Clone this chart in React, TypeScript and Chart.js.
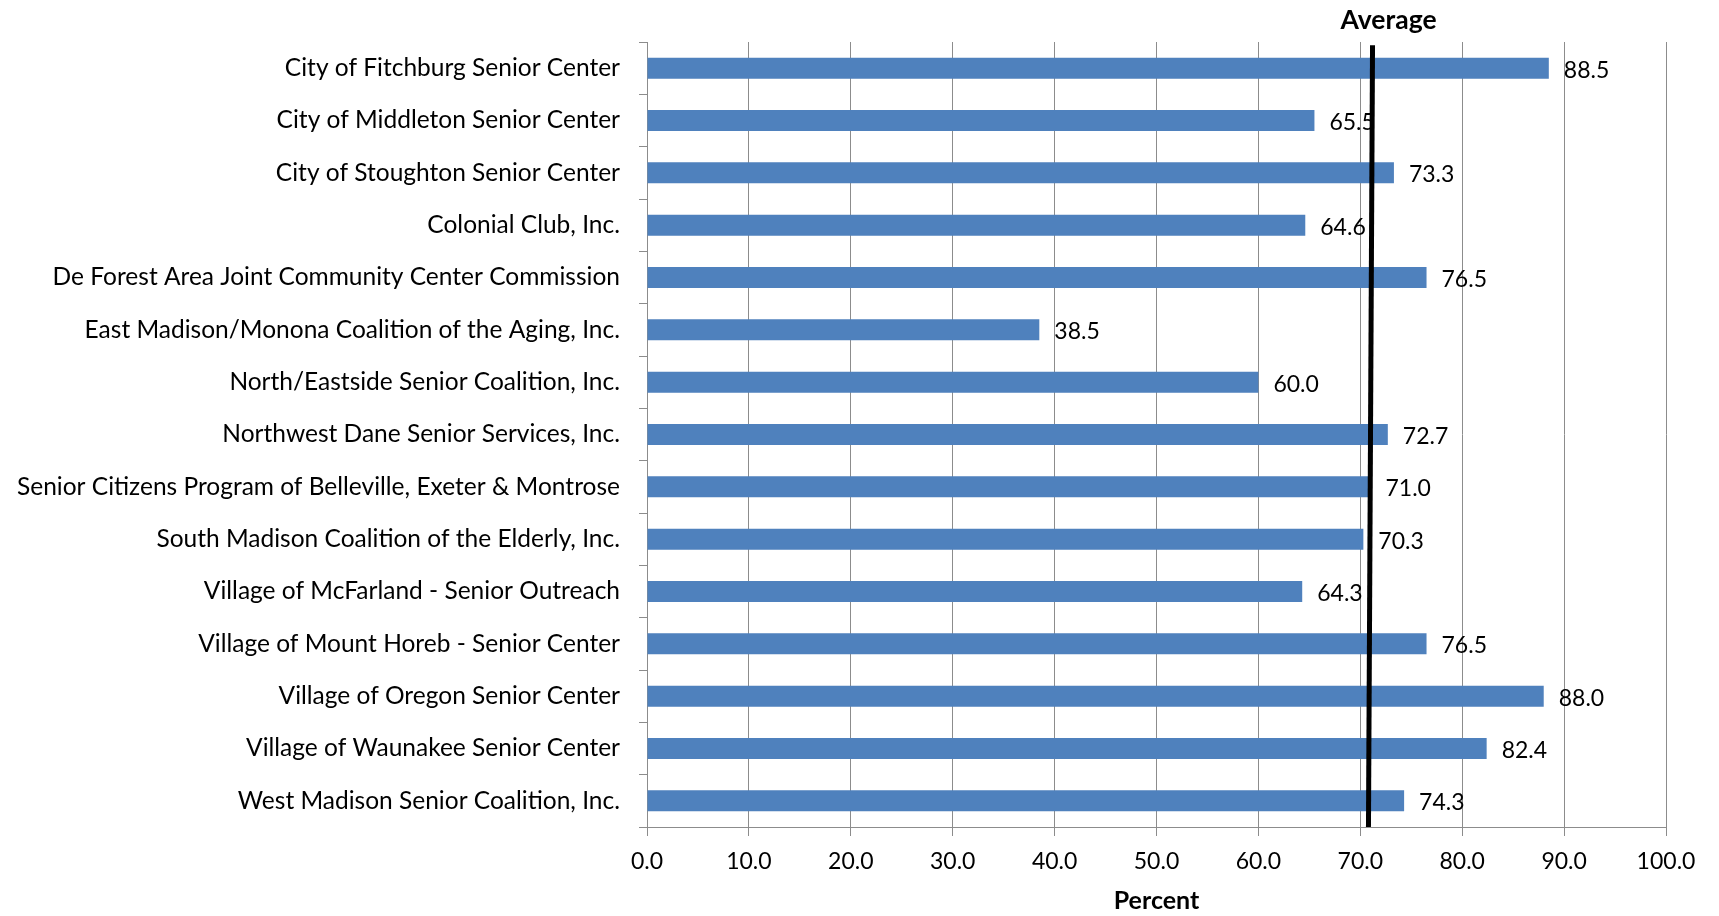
import { useEffect, useRef } from "react";
import { Chart, registerables } from "chart.js";

Chart.register(...registerables);

const categories = [
  "City of Fitchburg Senior Center",
  "City of Middleton Senior Center",
  "City of Stoughton Senior Center",
  "Colonial Club, Inc.",
  "De Forest Area Joint Community Center Commission",
  "East Madison/Monona Coalition of the Aging, Inc.",
  "North/Eastside Senior Coalition, Inc.",
  "Northwest Dane Senior Services, Inc.",
  "Senior Citizens Program of Belleville, Exeter & Montrose",
  "South Madison Coalition of the Elderly, Inc.",
  "Village of McFarland - Senior Outreach",
  "Village of Mount Horeb - Senior Center",
  "Village of Oregon Senior Center",
  "Village of Waunakee Senior Center",
  "West Madison Senior Coalition, Inc.",
];

const values = [88.5, 65.5, 73.3, 64.6, 76.5, 38.5, 60.0, 72.7, 71.0, 70.3, 64.3, 76.5, 88.0, 82.4, 74.3];

const averageX = [71.2, 70.8];
const averageY = [0.996, 0];
const averageLabel = "Average";
const xTitle = "Percent";
const xMin = 0;
const xMax = 100;
const xStep = 10;

const FONT = "Lato, 'Open Sans', sans-serif";
const FS = 23;
const FS_CAT = 24.5;
const GRID = "#8c8c8c";

export default function App() {
  const ref = useRef<HTMLCanvasElement | null>(null);

  useEffect(() => {
    document.body.style.margin = "0";
    const canvas = ref.current;
    if (!canvas) return;

    const labelsPlugin = {
      id: "valueLabels",
      afterDatasetDraw(chart: any, args: any) {
        if (args.index !== 0) return;
        const ctx = chart.ctx;
        const meta = chart.getDatasetMeta(0);
        ctx.save();
        ctx.font = `${FS}px ${FONT}`;
        ctx.fillStyle = "#000";
        ctx.textBaseline = "middle";
        ctx.textAlign = "left";
        meta.data.forEach((bar: any, i: number) => {
          ctx.fillText(values[i].toFixed(1), bar.x + 15, bar.y + 2);
        });
        ctx.restore();
      },
      afterDraw(chart: any) {
        const ctx = chart.ctx;
        const xs = chart.scales.x;
        ctx.save();
        ctx.font = `bold 26.5px ${FONT}`;
        ctx.fillStyle = "#000";
        ctx.textBaseline = "middle";
        ctx.textAlign = "center";
        ctx.fillText(averageLabel, xs.getPixelForValue(averageX[0]) + 16, 20);
        ctx.restore();
      },
    };

    const chart = new Chart(canvas, {
      type: "bar",
      data: {
        labels: categories,
        datasets: [
          {
            type: "bar",
            data: values,
            backgroundColor: "#4f81bd",
            borderWidth: 0,
            grouped: false,
            barPercentage: 0.4,
            categoryPercentage: 1.0,
            xAxisID: "x",
            yAxisID: "y",
            order: 1,
          } as any,
          {
            type: "scatter",
            data: averageX.map((x, i) => ({ x, y: averageY[i] })),
            showLine: true,
            borderColor: "#000",
            borderWidth: 5,
            pointRadius: 0,
            xAxisID: "x",
            yAxisID: "yAvg",
            order: 0,
            clip: false,
          } as any,
        ],
      },
      options: {
        indexAxis: "y",
        animation: false,
        responsive: true,
        maintainAspectRatio: false,
        layout: { padding: { top: 42, right: 53, left: 0, bottom: 0 } },
        plugins: { legend: { display: false }, tooltip: { enabled: false } },
        scales: {
          y: {
            type: "category",
            offset: true,
            grid: { offset: true, drawOnChartArea: false, drawTicks: true, tickLength: 8, color: GRID, lineWidth: 1 },
            border: { display: true, color: GRID, width: 1 },
            ticks: { font: { family: FONT, size: FS_CAT }, color: "#000", padding: 19, autoSkip: false },
            afterFit: (s: any) => {
              s.width = 647;
            },
          },
          yAvg: {
            type: "linear",
            min: 0,
            max: 1,
            offset: false,
            display: false,
          },
          x: {
            type: "linear",
            position: "bottom",
            min: xMin,
            max: xMax,
            grid: { color: GRID, lineWidth: 1, tickLength: 9 },
            border: { display: true, color: GRID, width: 1 },
            ticks: {
              stepSize: xStep,
              font: { family: FONT, size: FS },
              color: "#000",
              padding: 12,
              callback: (v: any) => Number(v).toFixed(1),
            },
            title: {
              display: true,
              text: xTitle,
              color: "#000",
              font: { family: FONT, size: 25, weight: "bold" },
              padding: { top: 10, bottom: 0 },
            },
            afterFit: (s: any) => {
              s.height = 89;
            },
          },
        },
      } as any,
      plugins: [labelsPlugin],
    });

    return () => chart.destroy();
  }, []);

  return (
    <div style={{ position: "relative", width: "1719px", height: "916px" }}>
      <canvas ref={ref} />
    </div>
  );
}
